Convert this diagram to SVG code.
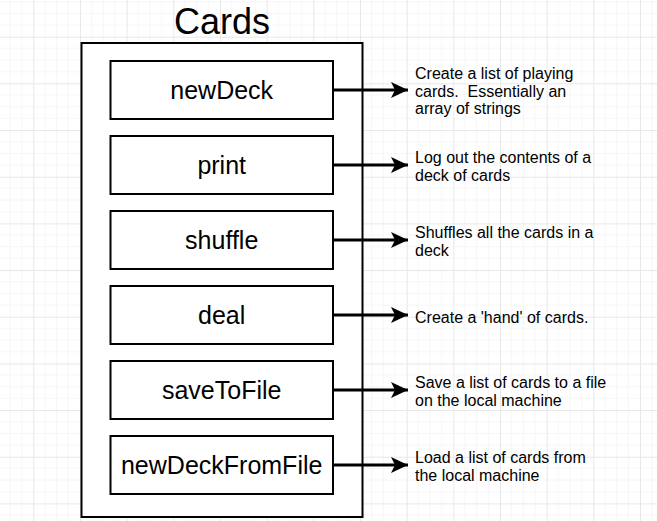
<svg xmlns="http://www.w3.org/2000/svg" width="657" height="521" viewBox="0 0 657 521">
<defs>
<style>
.box{fill:#fff;stroke:#000;stroke-width:2}
.lbl{font-family:"Liberation Sans",Arial,sans-serif;font-size:25px;fill:#000;text-anchor:middle}
.title{font-family:"Liberation Sans",Arial,sans-serif;font-size:36px;fill:#000;text-anchor:middle}
.desc{font-family:"Liberation Sans",Arial,sans-serif;font-size:16px;fill:#000;white-space:pre}
.conn{stroke:#000;stroke-width:3;fill:none;marker-end:url(#arr)}
</style>
<marker id="arr" markerUnits="userSpaceOnUse" markerWidth="18" markerHeight="18" refX="17" refY="8" orient="auto">
<path d="M0,0 L17,8 L0,16 L4,8 Z" fill="#000"/>
</marker>
<pattern id="grid" patternUnits="userSpaceOnUse" x="33.3" y="36.7" width="46.67" height="46.67">
<path d="M11.67,0V46.67M23.33,0V46.67M35,0V46.67M0,11.67H46.67M0,23.33H46.67M0,35H46.67" stroke="#f6f6f6" stroke-width="1"/>
<path d="M0.5,0V46.67M0,0.5H46.67" stroke="#e8e8e8" stroke-width="1"/>
</pattern>
</defs>
<rect width="657" height="521" fill="#fff"/>
<rect width="657" height="521" fill="url(#grid)"/>
<g id="cards">
<rect class="box" x="81.5" y="43" width="281" height="474"/>
<text class="title" x="222" y="34">Cards</text>
</g>
<g id="node-newDeck"><rect class="box" x="110.5" y="61" width="222.5" height="58"/><text class="lbl" x="221.7" y="99">newDeck</text></g>
<g id="node-print"><rect class="box" x="110.5" y="136" width="222.5" height="58"/><text class="lbl" x="221.7" y="174">print</text></g>
<g id="node-shuffle"><rect class="box" x="110.5" y="211" width="222.5" height="58"/><text class="lbl" x="221.7" y="249">shuffle</text></g>
<g id="node-deal"><rect class="box" x="110.5" y="286" width="222.5" height="58"/><text class="lbl" x="221.7" y="324">deal</text></g>
<g id="node-saveToFile"><rect class="box" x="110.5" y="361" width="222.5" height="58"/><text class="lbl" x="221.7" y="399">saveToFile</text></g>
<g id="node-newDeckFromFile"><rect class="box" x="110.5" y="436" width="222.5" height="58"/><text class="lbl" x="221.7" y="474">newDeckFromFile</text></g>
<g id="connectors">
<line class="conn" x1="333" y1="90" x2="408" y2="90"/>
<line class="conn" x1="333" y1="165" x2="408" y2="165"/>
<line class="conn" x1="333" y1="240" x2="408" y2="240"/>
<line class="conn" x1="333" y1="315" x2="408" y2="315"/>
<line class="conn" x1="333" y1="390" x2="408" y2="390"/>
<line class="conn" x1="333" y1="465" x2="408" y2="465"/>
</g>
<g id="desc-newDeck"><text class="desc" x="415" y="79">Create a list of playing</text><text class="desc" x="415" y="96.5" xml:space="preserve">cards.  Essentially an</text><text class="desc" x="415" y="114">array of strings</text></g>
<g id="desc-print"><text class="desc" x="415" y="163">Log out the contents of a</text><text class="desc" x="415" y="180.5">deck of cards</text></g>
<g id="desc-shuffle"><text class="desc" x="415" y="238">Shuffles all the cards in a</text><text class="desc" x="415" y="255.5">deck</text></g>
<g id="desc-deal"><text class="desc" x="415" y="322.5">Create a 'hand' of cards.</text></g>
<g id="desc-saveToFile"><text class="desc" x="415" y="388">Save a list of cards to a file</text><text class="desc" x="415" y="405.5">on the local machine</text></g>
<g id="desc-newDeckFromFile"><text class="desc" x="415" y="463">Load a list of cards from</text><text class="desc" x="415" y="480.5">the local machine</text></g>
</svg>
